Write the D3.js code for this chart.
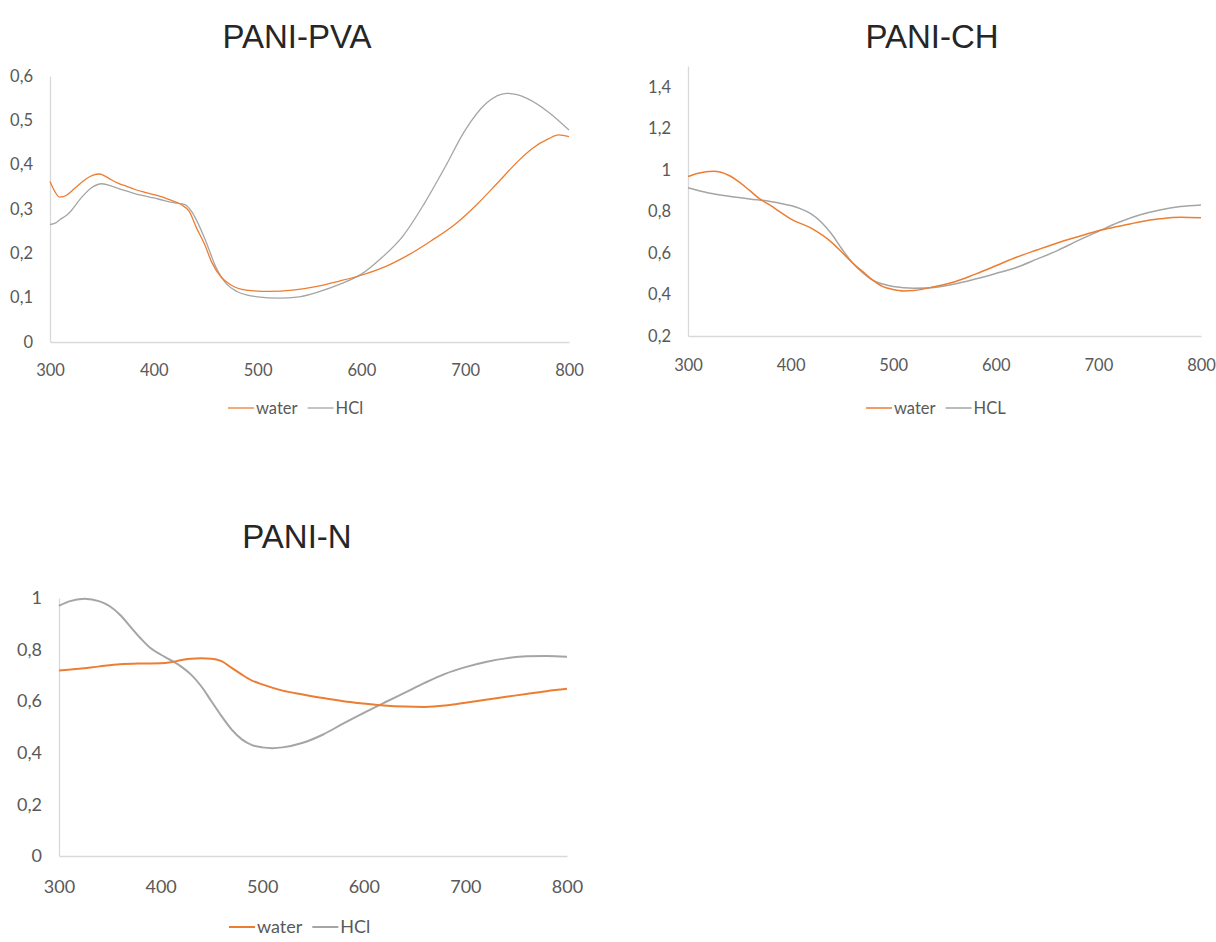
<!DOCTYPE html>
<html><head><meta charset="utf-8">
<script src="https://cdn.jsdelivr.net/npm/d3@7"></script>
<style>body{margin:0;background:#fff}</style>
</head><body>
<svg id="c" width="1216" height="942"></svg>
<script>
// ---- data (wavelength nm, absorbance) ----
const xTicks = [300, 400, 500, 600, 700, 800];
const pvaTicks = [0, 0.1, 0.2, 0.3, 0.4, 0.5, 0.6];
const chTicks = [0.2, 0.4, 0.6, 0.8, 1, 1.2, 1.4];
const nTicks = [0, 0.2, 0.4, 0.6, 0.8, 1];

const pvaWater = [[300,0.362],[305,0.338],[309,0.327],[313,0.328],[317,0.333],[323,0.345],[330,0.359],[336,0.370],[341,0.376],[348,0.379],[353,0.374],[359,0.366],[366,0.358],[374,0.351],[382,0.344],[389,0.339],[397,0.334],[404,0.330],[415,0.321],[427,0.309],[434,0.295],[441,0.258],[449,0.220],[456,0.179],[465,0.146],[474,0.129],[489,0.117],[511,0.114],[534,0.117],[556,0.125],[578,0.137],[599,0.150],[623,0.170],[645,0.196],[667,0.228],[690,0.265],[712,0.312],[734,0.366],[751,0.408],[765,0.437],[780,0.458],[790,0.467],[800,0.463]];
const pvaHCl = [[300,0.265],[305,0.268],[310,0.277],[315,0.284],[320,0.295],[330,0.325],[340,0.348],[350,0.357],[360,0.351],[370,0.343],[380,0.336],[390,0.330],[400,0.325],[410,0.319],[420,0.314],[430,0.310],[435,0.299],[440,0.280],[450,0.228],[460,0.168],[470,0.131],[480,0.114],[490,0.106],[500,0.102],[520,0.099],[540,0.102],[560,0.114],[580,0.131],[600,0.153],[620,0.191],[640,0.239],[660,0.310],[680,0.392],[700,0.478],[720,0.538],[740,0.561],[750,0.558],[760,0.549],[780,0.519],[800,0.478]];

const chWater = [[300,0.968],[310,0.984],[325,0.993],[340,0.973],[350,0.941],[360,0.901],[370,0.860],[380,0.830],[390,0.796],[400,0.764],[420,0.719],[440,0.651],[450,0.603],[460,0.554],[470,0.511],[480,0.469],[490,0.438],[500,0.424],[510,0.417],[520,0.419],[540,0.437],[560,0.461],[580,0.498],[600,0.538],[620,0.579],[640,0.614],[660,0.648],[680,0.678],[700,0.707],[720,0.728],[740,0.749],[760,0.764],[780,0.772],[800,0.769]];
const chHCl = [[300,0.914],[320,0.889],[340,0.873],[360,0.860],[380,0.848],[400,0.828],[410,0.812],[420,0.788],[430,0.748],[440,0.691],[450,0.619],[460,0.554],[470,0.506],[480,0.469],[490,0.450],[500,0.438],[520,0.430],[540,0.434],[560,0.450],[580,0.474],[600,0.501],[620,0.530],[640,0.570],[660,0.611],[680,0.659],[700,0.704],[720,0.748],[740,0.783],[760,0.807],[780,0.823],[800,0.831]];

const nWater = [[300,0.719],[320,0.726],[340,0.735],[360,0.743],[380,0.746],[400,0.747],[410,0.751],[420,0.759],[430,0.765],[440,0.766],[450,0.765],[460,0.755],[470,0.729],[480,0.703],[490,0.680],[500,0.665],[520,0.641],[540,0.626],[560,0.612],[580,0.600],[600,0.591],[620,0.583],[640,0.579],[660,0.578],[680,0.583],[700,0.594],[720,0.606],[740,0.617],[760,0.628],[780,0.639],[800,0.648]];
const nHCl = [[300,0.970],[310,0.987],[325,0.997],[340,0.987],[350,0.968],[360,0.935],[370,0.890],[380,0.845],[390,0.806],[400,0.781],[410,0.759],[420,0.735],[430,0.703],[440,0.658],[450,0.600],[460,0.542],[470,0.490],[480,0.452],[490,0.430],[500,0.421],[510,0.418],[520,0.421],[540,0.439],[560,0.471],[580,0.514],[600,0.555],[620,0.594],[640,0.632],[660,0.671],[680,0.706],[700,0.732],[720,0.752],[740,0.766],[760,0.774],[780,0.775],[800,0.772]];

// ---- styling / layout ----
const ORANGE = "#ED7D31", GRAY = "#A5A5A5", TXT = "#595959", AX = "#D9D9D9";
const charts = [
  {title:"PANI-PVA", tx:297, ty:48, left:50, right:569, top:76, bottom:342, dom:[0,0.6], yt:pvaTicks,
   water:pvaWater, hcl:pvaHCl, hclName:"HCl", lw:1.3, fs:16.5, xpad:22, legX:228, legY:408},
  {title:"PANI-CH", tx:932, ty:48, left:688, right:1201, top:66, bottom:336, dom:[0.2,1.5], yt:chTicks,
   water:chWater, hcl:chHCl, hclName:"HCL", lw:1.5, fs:16.5, xpad:23, legX:866, legY:408},
  {title:"PANI-N", tx:297, ty:548, left:59, right:567, top:598, bottom:856, dom:[0,1], yt:nTicks,
   water:nWater, hcl:nHCl, hclName:"HCl", lw:2, fs:18, xpad:24, legX:229, legY:927}
];

const svg = d3.select("#c");
const fmt = d => String(+d.toFixed(1)).replace(".", ",");

charts.forEach(c => {
  const g = svg.append("g");
  const x = d3.scaleLinear().domain([300, 800]).range([c.left, c.right]);
  const y = d3.scaleLinear().domain(c.dom).range([c.bottom, c.top]);

  g.append("text").attr("x", c.tx).attr("y", c.ty).attr("text-anchor", "middle")
    .attr("font-family", "Liberation Sans, Arial, sans-serif").attr("font-size", 33)
    .attr("fill", "#262626").text(c.title);

  const xa = g.append("g").attr("transform", `translate(0,${c.bottom})`)
    .call(d3.axisBottom(x).tickValues(xTicks).tickSize(0).tickPadding(c.xpad).tickFormat(d => d));
  const ya = g.append("g").attr("transform", `translate(${c.left},0)`)
    .call(d3.axisLeft(y).tickValues(c.yt).tickSize(0).tickPadding(17).tickFormat(fmt));
  [xa, ya].forEach(a => {
    a.select(".domain").attr("stroke", AX).attr("stroke-width", 1.3);
    a.selectAll("text").attr("font-family", "Lato, sans-serif").attr("font-size", c.fs).attr("fill", TXT);
  });

  const line = d3.line().x(d => x(d[0])).y(d => y(d[1])).curve(d3.curveMonotoneX);
  g.append("path").datum(c.hcl).attr("d", line).attr("fill", "none").attr("stroke", GRAY).attr("stroke-width", c.lw);
  g.append("path").datum(c.water).attr("d", line).attr("fill", "none").attr("stroke", ORANGE).attr("stroke-width", c.lw);

  // legend
  const lg = g.append("g").attr("transform", `translate(${c.legX},${c.legY})`)
    .attr("font-family", "Lato, sans-serif").attr("font-size", c.fs).attr("fill", TXT);
  lg.append("line").attr("x1", 0).attr("x2", 26).attr("y1", 0).attr("y2", 0).attr("stroke", ORANGE).attr("stroke-width", c.lw);
  const t1 = lg.append("text").attr("x", 28).attr("y", 0).attr("dy", "0.35em").text("water");
  const w1 = t1.node().getComputedTextLength();
  const x2 = 28 + w1 + 10;
  lg.append("line").attr("x1", x2).attr("x2", x2 + 26).attr("y1", 0).attr("y2", 0).attr("stroke", GRAY).attr("stroke-width", c.lw);
  lg.append("text").attr("x", x2 + 28).attr("y", 0).attr("dy", "0.35em").text(c.hclName);
});
</script>
</body></html>
